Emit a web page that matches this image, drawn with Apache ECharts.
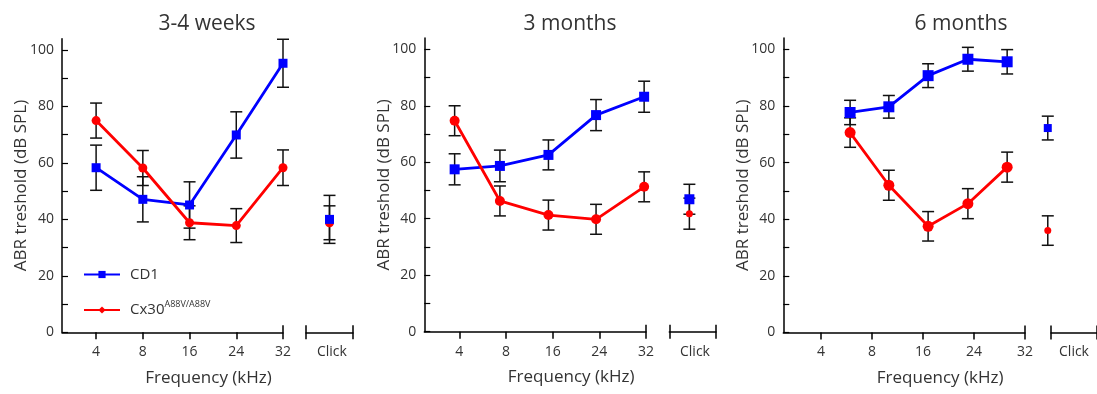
<!DOCTYPE html>
<html>
<head>
<meta charset="utf-8">
<script src="https://cdn.jsdelivr.net/npm/echarts@6/dist/echarts.min.js"></script>
<style>
  html, body { margin: 0; padding: 0; background: #fff; }
  #chart { width: 1097px; height: 394px; }
</style>
</head>
<body>
<div id="chart"></div>
<script>
// ABR thresholds, three ages
var freqLabels = ['4', '8', '16', '24', '32'];
var freqTicks = [0, 1, 2, 3, 4];
var yTickValues = [0, 10, 20, 30, 40, 50, 60, 70, 80, 90, 100];
var yLabelValues = [0, 20, 40, 60, 80, 100];
var panelTitles = ['3-4 weeks', '3 months', '6 months'];

// 3-4 weeks
var wkX = [0, 1, 2, 3, 4];
var wkCD1 = [58.3, 47.1, 45.1, 69.9, 95.3];
var wkCD1Err = [8.0, 8.0, 8.2, 8.2, 8.5];
var wkCx30 = [75.0, 58.2, 38.8, 37.8, 58.3];
var wkCx30Err = [6.2, 6.2, 6.0, 6.0, 6.3];

// 3 months
var m3X = [-0.1, 0.87, 1.91, 2.93, 3.96];
var m3CD1 = [57.5, 58.7, 62.6, 76.7, 83.2];
var m3CD1Err = [5.5, 5.6, 5.3, 5.5, 5.5];
var m3Cx30 = [74.7, 46.3, 41.3, 39.8, 51.3];
var m3Cx30Err = [5.3, 5.3, 5.3, 5.3, 5.3];

// 6 months
var m6X = [0.57, 1.33, 2.1, 2.88, 3.65];
var m6CD1 = [77.7, 79.7, 90.7, 96.5, 95.6];
var m6CD1Err = [4.3, 4.0, 4.2, 4.2, 4.3];
var m6Cx30 = [70.6, 52.0, 37.5, 45.5, 58.4];
var m6Cx30Err = [5.2, 5.3, 5.2, 5.3, 5.3];

// click stimulus, one value per panel
var clickX = [0.5, 0.43, -0.07];
var clickCD1 = [40.0, 46.9, 72.2];
var clickCD1Err = [8.5, 5.3, 4.2];
var clickCx30 = [38.8, 41.8, 36.0];
var clickCx30Err = [6.0, 5.5, 5.2];

var panels = [
  {x: wkX, cd1: wkCD1, cd1Err: wkCD1Err, cx: wkCx30, cxErr: wkCx30Err},
  {x: m3X, cd1: m3CD1, cd1Err: m3CD1Err, cx: m3Cx30, cxErr: m3Cx30Err},
  {x: m6X, cd1: m6CD1, cd1Err: m6CD1Err, cx: m6Cx30, cxErr: m6Cx30Err}
];

// 版面
var layout = [
  {left: 62, width: 221, clickLeft: 306, clickWidth: 47, top: 38.7, bottom: 332.3, xMin: -0.73, titleX: 207, clickLabel: 0.55, sym: 9, clickSym: [9, 9]},
  {left: 424.3, width: 221.7, clickLeft: 669.3, clickWidth: 46.7, top: 38, bottom: 331.7, xMin: -0.75, titleX: 570, clickLabel: 0.55, sym: 10, clickSym: [10, 7]},
  {left: 783.3, width: 241.7, clickLeft: 1051, clickWidth: 51, top: 38, bottom: 332.5, xMin: -0.74, titleX: 961, clickLabel: 0.5, sym: 11, clickSym: [8, 7]}
];

var font = "'Open Sans', 'DejaVu Sans', sans-serif";
var blue = '#0000ff';
var red = '#ff0000';
var ink = '#000';
var textColor = '#333';

function errRender(params, api) {
  var x = api.value(0);
  var hi = api.coord([x, api.value(2)]);
  var lo = api.coord([x, api.value(1)]);
  var w = 6;
  var st = {stroke: '#111', lineWidth: 1.5};
  return {
    type: 'group',
    children: [
      {type: 'line', shape: {x1: hi[0], y1: hi[1], x2: lo[0], y2: lo[1]}, style: st},
      {type: 'line', shape: {x1: hi[0] - w, y1: hi[1], x2: hi[0] + w, y2: hi[1]}, style: st},
      {type: 'line', shape: {x1: lo[0] - w, y1: lo[1], x2: lo[0] + w, y2: lo[1]}, style: st}
    ]
  };
}

function errData(xs, vals, errs) {
  return vals.map(function (v, i) { return [xs[i], v - errs[i], v + errs[i]]; });
}

function initPanel(i, option) {
  var p = panels[i];
  var L = layout[i];
  var h = L.bottom - L.top;
  option.grid.push({left: L.left, top: L.top, width: L.width, height: h});
  option.grid.push({left: L.clickLeft, top: L.top, width: L.clickWidth, height: h});
  var g = i * 2;

  // main frequency axis
  option.xAxis.push({
    gridIndex: g, type: 'value', position: 'bottom', min: L.xMin, max: 4,
    axisLine: {onZero: false, lineStyle: {color: ink, width: 1.5}},
    axisTick: {inside: false, length: 7, customValues: freqTicks, lineStyle: {color: ink, width: 1.5}},
    axisLabel: {customValues: freqTicks, margin: 13, fontSize: 14, color: textColor, fontFamily: font,
      formatter: function (v) { return freqLabels[Math.round(v)]; }},
    splitLine: {show: false},
    name: 'Frequency (kHz)', nameLocation: 'middle', nameGap: 37, nameMoveOverlap: false,
    nameTextStyle: {fontSize: 17, color: textColor, fontFamily: font, padding: [0, 0, 0, 72]}
  });
  // upward half of the end cap
  option.xAxis.push({
    gridIndex: g, type: 'value', position: 'bottom', min: L.xMin, max: 4,
    axisLine: {show: false, onZero: false},
    axisTick: {inside: true, length: 7, customValues: [4], lineStyle: {color: ink, width: 1.5}},
    axisLabel: {show: false}, splitLine: {show: false}
  });
  // click axis
  option.xAxis.push({
    gridIndex: g + 1, type: 'value', position: 'bottom', min: 0, max: 1,
    axisLine: {onZero: false, lineStyle: {color: ink, width: 1.5}},
    axisTick: {inside: false, length: 7, customValues: [0, 1], lineStyle: {color: ink, width: 1.5}},
    axisLabel: {customValues: [L.clickLabel], margin: 13, fontSize: 14, color: textColor, fontFamily: font,
      formatter: function () { return 'Click'; }},
    splitLine: {show: false}
  });
  option.xAxis.push({
    gridIndex: g + 1, type: 'value', position: 'bottom', min: 0, max: 1,
    axisLine: {show: false, onZero: false},
    axisTick: {inside: true, length: 7, customValues: [0, 1], lineStyle: {color: ink, width: 1.5}},
    axisLabel: {show: false}, splitLine: {show: false}
  });

  option.yAxis.push({
    gridIndex: g, type: 'value', min: 0, max: 104,
    axisLine: {show: true, onZero: false, lineStyle: {color: ink, width: 1.5}},
    axisTick: {show: true, inside: true, length: 6, customValues: yTickValues, lineStyle: {color: ink, width: 1.2}},
    axisLabel: {customValues: yLabelValues, margin: 8, fontSize: 14, color: textColor, fontFamily: font},
    splitLine: {show: false},
    name: 'ABR treshold (dB SPL)', nameLocation: 'middle', nameGap: 32, nameMoveOverlap: false,
    nameTextStyle: {fontSize: 17, color: textColor, fontFamily: font}
  });
  option.yAxis.push({gridIndex: g + 1, type: 'value', min: 0, max: 104, show: false});

  var xi = i * 4, ci = i * 4 + 2;
  option.series.push(
    {type: 'custom', name: 'CD1 err', xAxisIndex: xi, yAxisIndex: g, renderItem: errRender, data: errData(p.x, p.cd1, p.cd1Err), z: 1},
    {type: 'custom', name: 'Cx30 err', xAxisIndex: xi, yAxisIndex: g, renderItem: errRender, data: errData(p.x, p.cx, p.cxErr), z: 1},
    {type: 'custom', name: 'click err', xAxisIndex: ci, yAxisIndex: g + 1, renderItem: errRender, z: 1,
      data: [[clickX[i], clickCD1[i] - clickCD1Err[i], clickCD1[i] + clickCD1Err[i]],
             [clickX[i], clickCx30[i] - clickCx30Err[i], clickCx30[i] + clickCx30Err[i]]]},
    {type: 'line', name: 'CD1', xAxisIndex: xi, yAxisIndex: g, symbol: 'rect', symbolSize: L.sym,
      lineStyle: {color: blue, width: 2.8}, itemStyle: {color: blue}, z: 3,
      data: p.cd1.map(function (v, k) { return [p.x[k], v]; })},
    {type: 'line', name: 'Cx30', xAxisIndex: xi, yAxisIndex: g, symbol: 'diamond', symbolSize: L.sym,
      lineStyle: {color: red, width: 2.8}, itemStyle: {color: red}, z: 4,
      data: p.cx.map(function (v, k) { return {value: [p.x[k], v], symbol: 'circle'}; })},
    {type: 'scatter', name: 'Cx30 click', xAxisIndex: ci, yAxisIndex: g + 1, symbol: 'circle', symbolSize: L.clickSym[1],
      itemStyle: {color: red, opacity: 1}, clip: false, z: 3, data: [[clickX[i], clickCx30[i]]]},
    {type: 'scatter', name: 'CD1 click', xAxisIndex: ci, yAxisIndex: g + 1, symbol: 'rect', symbolSize: L.clickSym[0],
      itemStyle: {color: blue, opacity: 1}, clip: false, z: 4, data: [[clickX[i], clickCD1[i]]]}
  );

  option.title.push({
    text: panelTitles[i], left: L.titleX, top: 14, textAlign: 'center', padding: 0,
    textStyle: {fontSize: 21, fontWeight: 'normal', color: textColor, fontFamily: font}
  });
}

function getOption() {
  var option = {
    animation: false,
    backgroundColor: '#fff',
    title: [], grid: [], xAxis: [], yAxis: [], series: [],
    legend: {
      data: ['CD1', 'Cx30'], orient: 'vertical', left: 78, top: 262,
      itemWidth: 36, itemHeight: 9, itemGap: 18, selectedMode: false,
      formatter: function (n) { return n === 'Cx30' ? '{base|Cx30}{sup|A88V/A88V}' : '{base|CD1}'; },
      textStyle: {
        rich: {
          base: {fontSize: 15, color: textColor, fontFamily: font, padding: [0, 0, 0, 5], lineHeight: 20},
          sup: {fontSize: 9, color: textColor, fontFamily: font, verticalAlign: 'top', lineHeight: 10}
        }
      }
    }
  };
  for (var i = 0; i < panels.length; i++) initPanel(i, option);
  return option;
}

var chart = echarts.init(document.getElementById('chart'));
chart.setOption(getOption());
</script>
</body>
</html>
